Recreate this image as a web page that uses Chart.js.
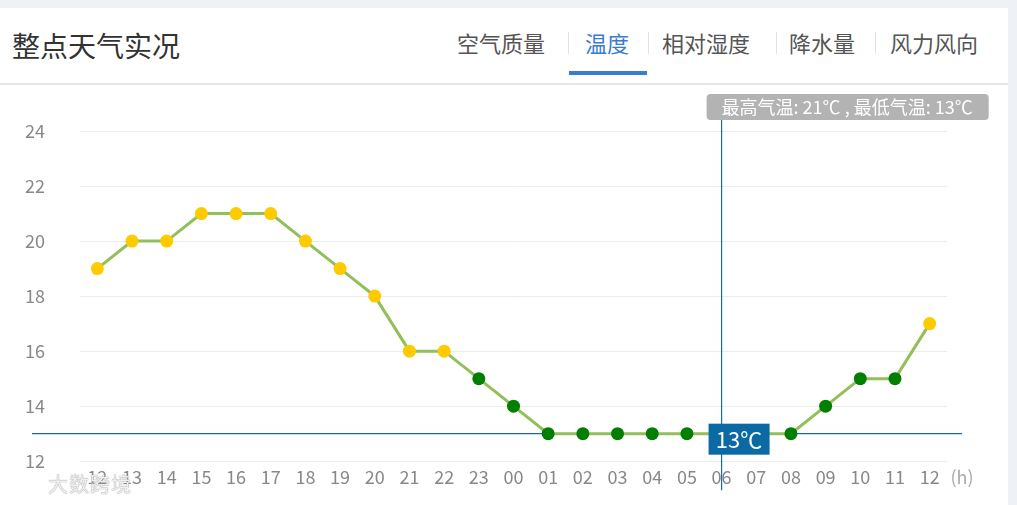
<!DOCTYPE html>
<html>
<head>
<meta charset="utf-8">
<script src="https://cdn.jsdelivr.net/npm/chart.js@4.4.1/dist/chart.umd.min.js"></script>
<style>
  body { margin: 0; width: 1017px; height: 505px; overflow: hidden; background: #eef1f5;
         font-family: "Noto Sans CJK SC", "Noto Sans", sans-serif; }
  .card { position: absolute; left: 0; top: 8px; width: 1008px; height: 497px; background: #fff; }
  .title { position: absolute; left: 12px; top: 23px; font-size: 28px; line-height: 28px; color: #333; }
  .tab { position: absolute; top: 22px; font-size: 22px; line-height: 24px; color: #555; white-space: nowrap; }
  .tab.on { color: #3a7bd5; }
  .sep { position: absolute; top: 24px; width: 1px; height: 22px; background: #e2e2e2; }
  .bar { position: absolute; left: 569px; top: 63px; width: 78px; height: 4px; background: #3a7bd5; }
  .hline { position: absolute; left: 0; top: 75px; width: 1008px; height: 2px; background: #e6e6e6; }
  #wrap { position: absolute; left: 0; top: 84px; width: 1008px; height: 423px; }
  .mark { position: absolute; left: 48px; top: 472px; font-size: 20px; line-height: 24px; color: rgba(255,255,255,0.85);
          text-shadow: 0 0 1px #999, 0 0 1px #999; letter-spacing: 1px; }
</style>
</head>
<body>
<div class="card">
  <div class="title">整点天气实况</div>
  <div class="tab" style="left:457px">空气质量</div>
  <div class="sep" style="left:568px"></div>
  <div class="tab on" style="left:585px">温度</div>
  <div class="sep" style="left:648px"></div>
  <div class="tab" style="left:662px">相对湿度</div>
  <div class="sep" style="left:776px"></div>
  <div class="tab" style="left:789px">降水量</div>
  <div class="sep" style="left:875px"></div>
  <div class="tab" style="left:890px">风力风向</div>
  <div class="bar"></div>
  <div class="hline"></div>
</div>
<div id="wrap"><canvas id="myChart"></canvas></div>
<div class="mark">大数跨境</div>
<script>
// hourly temperature, noon to noon
const hours = ['12', '13', '14', '15', '16', '17', '18', '19', '20', '21', '22', '23',
    '00', '01', '02', '03', '04', '05', '06', '07', '08', '09', '10', '11', '12'];
const temps = [19, 20, 20, 21, 21, 21, 20, 19, 18, 16, 16, 15,
    14, 13, 13, 13, 13, 13, 13, 13, 13, 14, 15, 15, 17];
const yMin = 12;
const yMax = 24;
const yStep = 2;
const warmFrom = 16;          // points at or above this are yellow
const hoverIndex = 18;        // the "06" column under the cursor
const maxTemp = 21;
const minTemp = 13;
const unitLabel = '(h)';

const pointColors = temps.map(t => t >= warmFrom ? '#fecb00' : '#007f00');
const fontFam = '"Noto Sans CJK SC", "Noto Sans", sans-serif';

const crosshair = {
    id: 'crosshair',
    beforeDatasetsDraw(c) {
        const ctx = c.ctx, a = c.chartArea;
        const x = c.scales.x.getPixelForValue(hoverIndex);
        const y = c.scales.y.getPixelForValue(temps[hoverIndex]);
        ctx.save();
        ctx.strokeStyle = '#1d6aa3';
        ctx.lineWidth = 1.2;
        ctx.beginPath();
        ctx.moveTo(32, y); ctx.lineTo(a.right + 15, y);
        ctx.moveTo(x, a.top - 15); ctx.lineTo(x, a.bottom + 29);
        ctx.stroke();
        ctx.restore();
    },
    afterDatasetsDraw(c) {
        const ctx = c.ctx, a = c.chartArea;
        const x = c.scales.x.getPixelForValue(hoverIndex);
        const y = c.scales.y.getPixelForValue(temps[hoverIndex]);
        ctx.save();
        // value box on the horizontal line
        ctx.fillStyle = '#0b69a3';
        ctx.fillRect(x - 13, y - 10, 61, 31);
        ctx.fillStyle = '#fff';
        ctx.font = '22px ' + fontFam;
        ctx.textAlign = 'center';
        ctx.textBaseline = 'middle';
        ctx.fillText(temps[hoverIndex] + '℃', x + 17.5, y + 6);
        // max/min summary at the top
        const txt = '最高气温: ' + maxTemp + '℃ , 最低气温: ' + minTemp + '℃';
        ctx.font = '18px ' + fontFam;
        const w = ctx.measureText(txt).width;
        ctx.fillStyle = '#b3b3b3';
        ctx.beginPath();
        ctx.roundRect(x - 15, a.top - 37, w + 31, 26, 4);
        ctx.fill();
        ctx.fillStyle = '#fff';
        ctx.textAlign = 'left';
        ctx.fillText(txt, x, a.top - 24);
        // unit after the last hour
        ctx.fillStyle = '#aaa';
        ctx.font = '18px ' + fontFam;
        ctx.textAlign = 'center';
        ctx.fillText(unitLabel, a.right + 15, a.bottom + 16);
        ctx.restore();
    }
};

const ctx = document.getElementById('myChart');
const chart = new Chart(ctx, {
    type: 'line',
    data: {
        labels: hours,
        datasets: [{
            data: temps,
            borderColor: '#93bf5a',
            borderWidth: 3,
            pointRadius: 6.5,
            pointBorderWidth: 0,
            pointBackgroundColor: pointColors,
            tension: 0,
            fill: false
        }]
    },
    options: {
        animation: false,
        responsive: true,
        maintainAspectRatio: false,
        layout: { padding: { top: 47, right: 61, bottom: 7, left: 0 } },
        scales: {
            x: {
                offset: true,
                grid: { display: false, drawTicks: false },
                border: { display: false },
                ticks: { color: '#888', font: { size: 18, family: fontFam }, padding: 5, maxRotation: 0, autoSkip: false }
            },
            y: {
                min: yMin,
                max: yMax,
                grid: { color: '#ececec', drawTicks: false },
                border: { display: false },
                ticks: { stepSize: yStep, color: '#888', font: { size: 18, family: fontFam }, padding: 35 },
                afterFit(scale) { scale.width = 80; }
            }
        },
        plugins: { legend: { display: false }, tooltip: { enabled: false } }
    },
    plugins: [crosshair]
});
</script>
</body>
</html>
